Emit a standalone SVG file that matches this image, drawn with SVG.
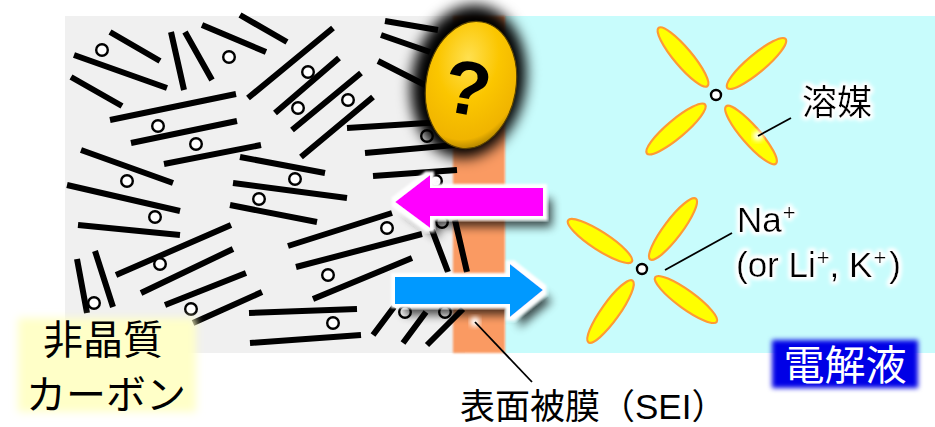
<svg xmlns="http://www.w3.org/2000/svg" width="935" height="427" viewBox="0 0 935 427">
  <style>
    .sheet { fill: none; stroke: #000; stroke-width: 6; stroke-linecap: butt; }
    .ion { fill: #fff; stroke: #000; stroke-width: 2.4; }
    .petal { fill: #ffff00; stroke: #ff9a33; stroke-width: 2.2; }
    .lead { fill: none; stroke: #000; stroke-width: 1.8; }
    .jp { font-family: "Liberation Sans", "Noto Sans CJK JP", sans-serif; }
    .lat { font-family: "Liberation Sans", Arial, sans-serif; }
  </style>
  <defs>
    <filter id="arrowFx" x="-30%" y="-80%" width="170%" height="260%">
      <feGaussianBlur in="SourceAlpha" stdDeviation="5" result="b"/>
      <feOffset in="b" dx="9" dy="11" result="o"/>
      <feComponentTransfer in="o" result="sh"><feFuncA type="linear" slope="0.7"/></feComponentTransfer>
      <feMorphology in="SourceAlpha" operator="dilate" radius="4" result="d"/>
      <feGaussianBlur in="d" stdDeviation="1.2" result="db"/>
      <feFlood flood-color="#fff"/>
      <feComposite in2="db" operator="in" result="halo"/>
      <feMerge><feMergeNode in="sh"/><feMergeNode in="halo"/><feMergeNode in="SourceGraphic"/></feMerge>
    </filter>
    <filter id="halo" x="-30%" y="-40%" width="160%" height="180%">
      <feMorphology in="SourceAlpha" operator="dilate" radius="2" result="d"/>
      <feGaussianBlur in="d" stdDeviation="2" result="db"/>
      <feFlood flood-color="#fff"/>
      <feComposite in2="db" operator="in" result="h"/>
      <feMerge><feMergeNode in="h"/><feMergeNode in="h"/><feMergeNode in="SourceGraphic"/></feMerge>
    </filter>
    <filter id="soft" x="-20%" y="-30%" width="140%" height="160%">
      <feGaussianBlur stdDeviation="4"/>
    </filter>
    <filter id="soft2" x="-20%" y="-30%" width="140%" height="160%">
      <feGaussianBlur stdDeviation="2.5"/>
    </filter>
    <filter id="eggShadow" x="-40%" y="-40%" width="180%" height="180%">
      <feGaussianBlur stdDeviation="7"/>
    </filter>
    <filter id="edge" x="-5%" y="-5%" width="110%" height="110%">
      <feGaussianBlur stdDeviation="1"/>
    </filter>
    <radialGradient id="eggFill" cx="0.42" cy="0.3" r="0.75">
      <stop offset="0" stop-color="#ffe050"/>
      <stop offset="0.45" stop-color="#fbc600"/>
      <stop offset="0.85" stop-color="#f0b400"/>
      <stop offset="1" stop-color="#9a7200"/>
    </radialGradient>
  </defs>

  <!-- regions: carbon electrode, electrolyte, surface film -->
  <g id="carbon-bg"><rect x="65" y="16" width="400" height="337" fill="#f0f0f0"/></g>
  <g id="electrolyte-bg"><rect x="505" y="16" width="430" height="337" fill="#c8fcfc"/></g>
  <g id="sei"><rect x="453" y="16" width="52" height="337" fill="#fa9a62" filter="url(#edge)"/></g>

  <!-- disordered graphene sheets with stored ions -->
  <g id="carbon">
    <path class="sheet" d="M110 32L160 61M74 55L167 88M71 77L122 106M171 32L184 90M185 32L212 80M202 25L266 52M240 15L287 42
      M110 120L236 94M131 143L237 121M164 164L261 145M81 150L173 183M240 157L325 173
      M248 98L333 28M275 113L339 58M292 130L361 73M301 157L373 97
      M385 21L438 30M381 35L430 52M378 61L425 85M347 128L443 122M365 153L455 145M373 176L457 170
      M67 185L180 211M78 225L180 235M233 183L347 198M230 205L317 222
      M116 275L231 225M141 293L233 249M165 305L246 273M193 323L262 292M77 259L87 313M95 251L113 307
      M288 246L392 213M296 267L422 234M313 299L412 258M249 313L357 309M250 343L361 335
      M432 230L448 272M455 220L467 272M373 335L394 307M403 343L426 312M427 345L463 309"/>
    <g class="ion">
      <circle cx="102" cy="50" r="5.8"/><circle cx="229" cy="57" r="5.8"/><circle cx="158" cy="126" r="5.8"/>
      <circle cx="196" cy="144" r="5.8"/><circle cx="127" cy="181" r="5.8"/><circle cx="308" cy="72" r="5.8"/>
      <circle cx="298" cy="108" r="5.8"/><circle cx="348" cy="100" r="5.8"/><circle cx="427" cy="136" r="5.8"/>
      <circle cx="295" cy="179" r="5.8"/><circle cx="155" cy="217" r="5.8"/><circle cx="259" cy="199" r="5.8"/>
      <circle cx="160" cy="264" r="5.8"/><circle cx="191" cy="309" r="5.8"/><circle cx="94" cy="303" r="5.8"/>
      <circle cx="328" cy="275" r="5.8"/><circle cx="387" cy="228" r="5.8"/><circle cx="333" cy="323" r="5.8"/>
      <circle cx="436" cy="181" r="5.8"/><circle cx="442" cy="222" r="5.8"/><circle cx="405" cy="312" r="5.8"/>
      <circle cx="445" cy="312" r="5.8"/>
    </g>
  </g>

  <!-- question badge on the film -->
  <g id="question" transform="rotate(10 471 85)">
    <ellipse cx="468" cy="82" rx="57" ry="77" fill="#000" filter="url(#eggShadow)"/>
    <ellipse cx="471" cy="85" rx="45" ry="64" fill="url(#eggFill)" stroke="#5a4300" stroke-width="1.2"/>
    <text x="468" y="115" text-anchor="middle" font-family="'Liberation Sans', Arial, sans-serif" font-weight="bold" font-size="76" fill="#000">?</text>
  </g>

  <!-- ion flow arrows -->
  <g id="arrow-in"><path d="M543 188H430V175L395 202L430 228V216H543Z" fill="#ff00ff" filter="url(#arrowFx)"/></g>
  <g id="arrow-out"><path d="M395 277H510V264L543 290L510 317V304H395Z" fill="#0099ff" filter="url(#arrowFx)"/></g>

  <!-- solvent molecule -->
  <g id="solvent">
    <ellipse class="petal" cx="683" cy="57" rx="38" ry="9" transform="rotate(50 683 57)"/>
    <ellipse class="petal" cx="756.5" cy="63.5" rx="38" ry="9" transform="rotate(-40 756.5 63.5)"/>
    <ellipse class="petal" cx="676" cy="129" rx="38" ry="9" transform="rotate(-40 676 129)"/>
    <ellipse class="petal" cx="751" cy="135" rx="38" ry="9" transform="rotate(49 751 135)"/>
    <circle class="ion" cx="716" cy="95" r="5"/>
  </g>

  <!-- solvated cation -->
  <g id="solvated-ion">
    <ellipse class="petal" cx="600" cy="241" rx="38" ry="9" transform="rotate(33 600 241)"/>
    <ellipse class="petal" cx="673" cy="229" rx="38" ry="9" transform="rotate(-53 673 229)"/>
    <ellipse class="petal" cx="610.5" cy="311.5" rx="38" ry="9" transform="rotate(-54.5 610.5 311.5)"/>
    <ellipse class="petal" cx="686" cy="299.5" rx="38" ry="9" transform="rotate(36 686 299.5)"/>
    <circle class="ion" cx="642" cy="269" r="5"/>
  </g>

  <!-- leader lines -->
  <g id="connectors">
    <circle cx="758" cy="136" r="5" fill="#fff" filter="url(#soft2)"/>
    <circle cx="475" cy="322" r="5" fill="#fff" filter="url(#soft2)"/>
    <path class="lead" d="M758 136L791 118"/>
    <path class="lead" d="M665 270L732 233"/>
    <path class="lead" d="M475 322L532 382"/>
  </g>

  <!-- labels -->
  <g id="label-solvent">
    <text class="jp" x="837" y="115" text-anchor="middle" font-size="35" fill="#000" filter="url(#halo)">溶媒</text>
  </g>
  <g id="label-ion" filter="url(#halo)">
    <text class="lat" x="737" y="232" font-size="35" fill="#000">Na<tspan font-size="22" dy="-12" dx="1">+</tspan></text>
    <text class="lat" x="736" y="277" font-size="35" fill="#000">(or Li<tspan font-size="22" dy="-12" dx="1">+</tspan><tspan dy="12">, K</tspan><tspan font-size="22" dy="-12" dx="1">+</tspan><tspan dy="12" dx="3">)</tspan></text>
  </g>
  <g id="label-carbon">
    <rect x="18" y="318" width="178" height="94" fill="#ffffc8" filter="url(#soft)"/>
    <text class="jp" x="103" y="354" text-anchor="middle" font-size="40" fill="#000">非晶質</text>
    <text class="jp" x="106" y="409" text-anchor="middle" font-size="40" fill="#000">カーボン</text>
  </g>
  <g id="label-electrolyte">
    <rect x="772" y="340" width="146" height="48" fill="#0000e6" filter="url(#soft2)"/>
    <text class="jp" x="845" y="380" text-anchor="middle" font-size="41" fill="#fff">電解液</text>
  </g>
  <g id="label-sei">
    <text class="jp" x="460" y="419" font-size="35" fill="#000">表面被膜（SEI）</text>
  </g>
</svg>
